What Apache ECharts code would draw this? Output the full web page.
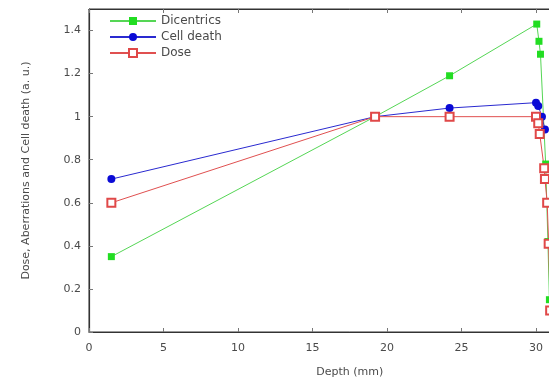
<!DOCTYPE html>
<html><head><meta charset="utf-8">
<script src="https://cdn.jsdelivr.net/npm/echarts@6/dist/echarts.min.js"></script>
<style>html,body{margin:0;padding:0;overflow:hidden;background:#fff;width:549px;height:379px}#c{width:640px;height:379px}</style>
</head><body><div id="c"></div>
<script>
const seriesNames = ['Dicentrics', 'Cell death', 'Dose'];
const dicentrics = [[1.5,0.35],[19.2,1.0],[24.2,1.19],[30.05,1.43],[30.2,1.35],[30.3,1.29],[30.65,0.78],[30.8,0.42],[30.9,0.15]];
const cellDeath = [[1.5,0.71],[19.2,1.0],[24.2,1.04],[30.0,1.065],[30.15,1.05],[30.4,1.0],[30.6,0.94]];
const dose = [[1.5,0.6],[19.2,1.0],[24.2,1.0],[30.0,1.0],[30.15,0.97],[30.25,0.92],[30.55,0.76],[30.6,0.71],[30.75,0.6],[30.85,0.41],[30.95,0.1]];
const xTicks = [0,5,10,15,20,25,30];
const yTicks = [0,0.2,0.4,0.6,0.8,1,1.2,1.4];

const font = 'DejaVu Sans';
const axisCol = '#333';
const labelCol = '#4a4a4a';
const chart = echarts.init(document.getElementById('c'), null, {renderer:'canvas'});
const common = {min:0, max:35, interval:5};
chart.setOption({
  animation:false,
  backgroundColor:'#fff',
  grid:{left:89, right:29.5, top:9, bottom:47, show:true, borderColor:axisCol, borderWidth:1,
    containLabel:false, outerBoundsMode:'none'},
  legend:{
    orient:'vertical', left:104, top:10, itemWidth:46, itemHeight:10, itemGap:4,
    textStyle:{fontFamily:font, fontSize:12, color:labelCol},
    data:seriesNames
  },
  xAxis:[{
    type:'value', ...common, position:'bottom',
    name:'Depth (mm)', nameLocation:'middle', nameGap:35,
    nameTextStyle:{fontFamily:font, fontSize:11, color:labelCol},
    axisLine:{show:true, lineStyle:{color:axisCol, width:1.2}},
    axisTick:{show:true, inside:true, length:4, lineStyle:{color:'#777'}},
    axisLabel:{fontFamily:font, fontSize:11, color:labelCol, margin:11,
      formatter:v => xTicks.includes(v) ? String(v) : ''},
    splitLine:{show:false}
  },{
    type:'value', ...common, position:'top',
    axisLine:{show:true, lineStyle:{color:axisCol, width:1}},
    axisTick:{show:true, inside:true, length:4, lineStyle:{color:'#777'}},
    axisLabel:{show:false}, splitLine:{show:false}
  }],
  yAxis:[{
    type:'value', min:0, max:1.5, interval:0.2,
    name:'Dose, Aberrations and Cell death (a. u.)', nameLocation:'middle', nameGap:57,
    nameTextStyle:{fontFamily:font, fontSize:11, color:labelCol},
    axisLine:{show:true, lineStyle:{color:axisCol, width:1.2}},
    axisTick:{show:true, inside:true, length:4, lineStyle:{color:'#777'}},
    axisLabel:{fontFamily:font, fontSize:11, color:labelCol, margin:8, showMaxLabel:false,
      formatter:v => yTicks.some(t => Math.abs(t - v) < 1e-9) ? String(+v.toFixed(1)) : ''},
    splitLine:{show:false}
  }],
  series:[
    {name:seriesNames[0], type:'line', data:dicentrics, symbol:'rect', symbolSize:7,
      itemStyle:{color:'#22dd22'}, lineStyle:{color:'#55d655', width:1}},
    {name:seriesNames[1], type:'line', data:cellDeath, symbol:'circle', symbolSize:8,
      itemStyle:{color:'#0b0bd6'}, lineStyle:{color:'#2a2ad0', width:1}},
    {name:seriesNames[2], type:'line', data:dose, symbol:'emptyRect', symbolSize:8,
      itemStyle:{color:'#e04848', borderWidth:1.2}, lineStyle:{color:'#e05050', width:1}}
  ]
});
</script></body></html>
